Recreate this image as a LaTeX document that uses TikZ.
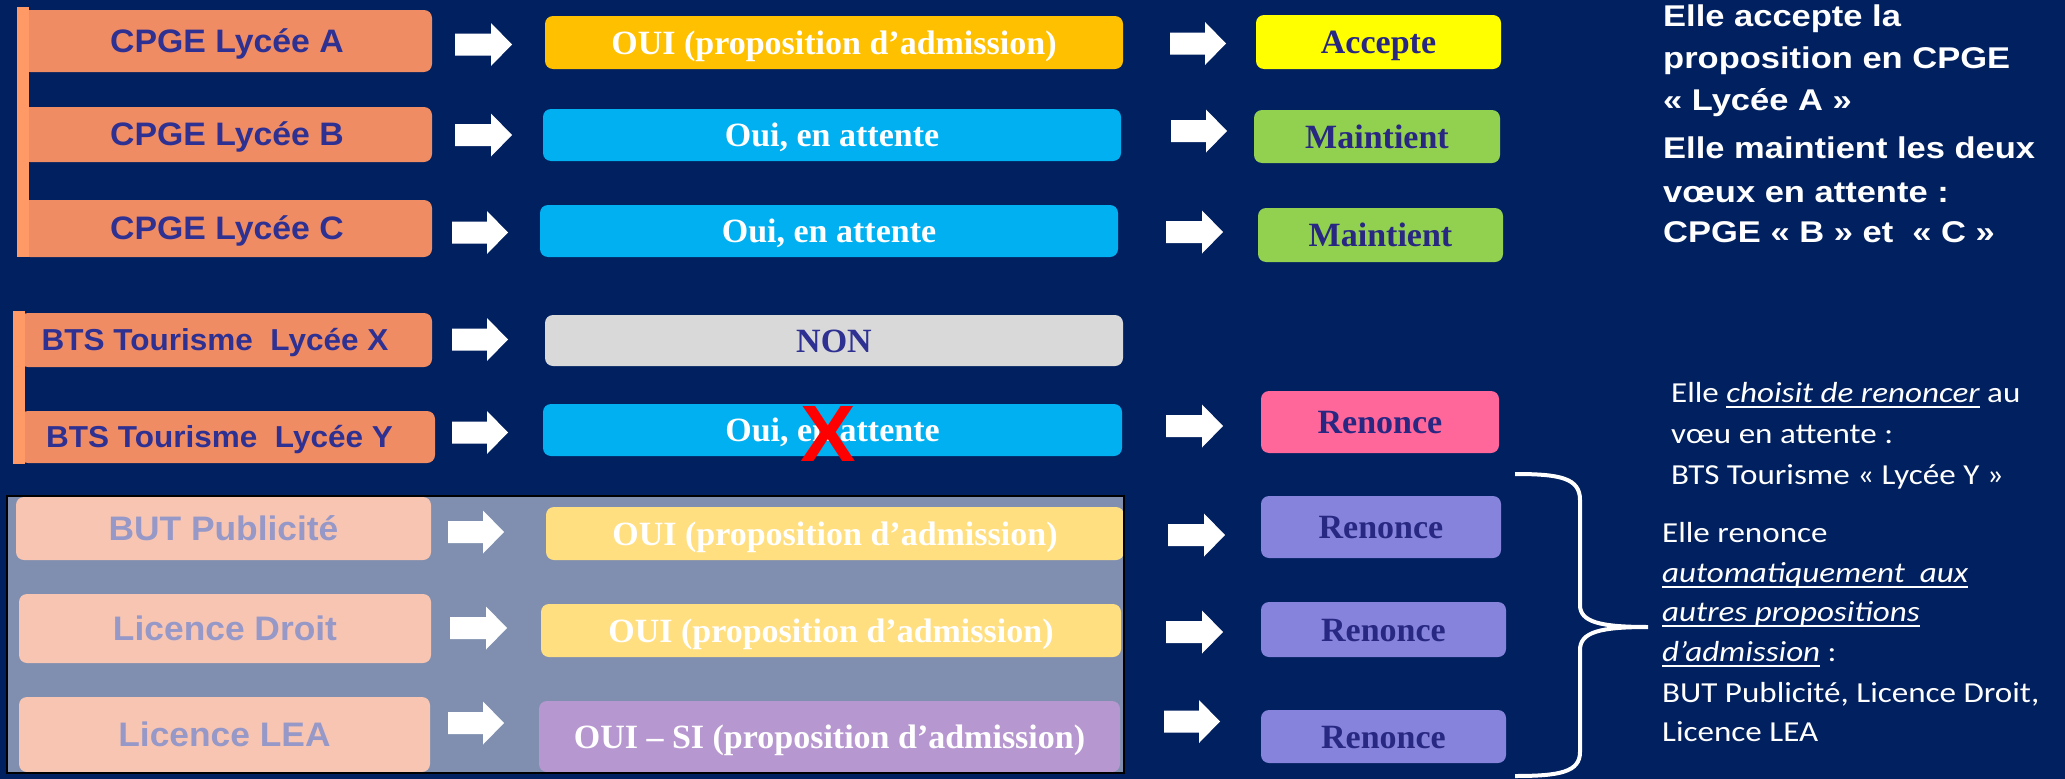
\documentclass[tikz,border=0pt]{standalone}
\usepackage{fontspec}
\setmainfont{Liberation Serif}
\newfontfamily\sansbox{Liberation Sans}[FakeStretch=1.04]
\newfontfamily\sanswide{Liberation Sans}[FakeStretch=1.15]
\newfontfamily\calfont{Carlito}[FakeStretch=1.14]
\definecolor{bg}{RGB}{0,32,96}
\definecolor{orbox}{RGB}{240,140,100}
\definecolor{orbar}{RGB}{255,153,102}
\definecolor{lbltxt}{RGB}{46,49,146}
\definecolor{gold}{RGB}{255,192,0}
\definecolor{cyanb}{RGB}{0,176,240}
\definecolor{greyb}{RGB}{217,217,217}
\definecolor{yel}{RGB}{255,255,0}
\definecolor{grn}{RGB}{146,208,80}
\definecolor{pinkb}{RGB}{255,102,153}
\definecolor{lav}{RGB}{133,131,219}
\definecolor{purp}{RGB}{112,48,160}
\definecolor{rtxt}{RGB}{40,40,130}
\newcommand\cc[1]{\raisebox{-.35em}[0pt][0pt]{#1}}
\newcommand\undl[1]{\setbox0=\hbox{#1}\rlap{\rule[-6pt]{\wd0}{1.6pt}}\box0\relax}
\newcommand\bx[7]{\node[#6, minimum width={#3pt-#2pt}, minimum height={#5pt-#4pt}] (#1) at ({(#2+#3)/2},{(#4+#5)/2}) {#7};}
\newcommand\barrow[3]{\fill[white] (#1,{#3-11}) -- ({#2-21},{#3-11}) -- ({#2-21},{#3-21.5}) -- (#2,#3) -- ({#2-21},{#3+21.5}) -- ({#2-21},{#3+11}) -- (#1,{#3+11}) -- cycle;}
\tikzset{
  box/.style={rounded corners=8pt, inner sep=0pt, draw=none},
  lfont/.style={font=\sansbox\bfseries\fontsize{#1}{#1}\selectfont},
  lbox/.style={box, fill=orbox, text=lbltxt},
  mbox/.style={box, text=white, font=\bfseries\fontsize{34}{34}\selectfont},
  rbox/.style={box, text=rtxt, font=\bfseries\fontsize{34}{34}\selectfont},
  rtext/.style={anchor=base west, inner sep=0pt, text=white, font=\sanswide\bfseries\fontsize{30}{30}\selectfont},
  ctext/.style={anchor=base west, inner sep=0pt, text=white, font=\calfont\fontsize{29}{29}\selectfont}
}
\begin{document}
\begin{tikzpicture}[x=1pt,y=-1pt]
\useasboundingbox (0,0) rectangle (2065,779);
\fill[bg] (0,0) rectangle (2065,779);
% left column
\bx{lA}{22}{432}{10}{72}{lbox,lfont=32.5}{\cc{CPGE Lycée A}}
\bx{lB}{22}{432}{107}{162}{lbox,lfont=32.5}{\cc{CPGE Lycée B}}
\bx{lC}{22}{432}{200}{257}{lbox,lfont=32.5}{\cc{CPGE Lycée C}}
\fill[orbar] (17,7) rectangle (29,257);
\bx{lX}{20}{432}{313}{367}{lbox,lfont=30.3}{\cc{\hspace*{-22pt}BTS Tourisme\ \ Lycée X}}
\bx{lY}{20}{435}{411}{463}{lbox,lfont=30.3}{\cc{\hspace*{-16pt}BTS Tourisme\ \ Lycée Y}}
\fill[orbar] (13,311) rectangle (25,464);
\bx{lBUT}{16}{431}{497}{560}{lbox,lfont=34}{\cc{BUT Publicité}}
\bx{lDroit}{19}{431}{594}{663}{lbox,lfont=34}{\cc{Licence Droit}}
\bx{lLEA}{19}{430}{697}{772}{lbox,lfont=34}{\cc{Licence LEA}}
% first arrows
\barrow{455}{512}{44.5}
\barrow{455}{512}{135}
\barrow{452}{508}{232.5}
\barrow{452}{508}{339.5}
\barrow{452}{508}{432.5}
\barrow{448}{504}{532}
\barrow{450}{507}{628}
\barrow{448}{504}{723}
% middle column
\bx{mA}{545}{1123}{16}{69}{mbox,fill=gold}{\cc{OUI (proposition d’admission)}}
\bx{mB}{543}{1121}{109}{161}{mbox,fill=cyanb}{\cc{Oui, en attente}}
\bx{mC}{540}{1118}{205}{257}{mbox,fill=cyanb}{\cc{Oui, en attente}}
\bx{mX}{545}{1123}{315}{366}{mbox,fill=greyb,text=lbltxt}{\cc{NON}}
\bx{mY}{543}{1122}{404}{456}{mbox,fill=cyanb}{\cc{Oui, en attente}}
\bx{mBUT}{546}{1124}{507}{560}{mbox,fill=gold}{\cc{OUI (proposition d’admission)}}
\bx{mDroit}{541}{1121}{604}{657}{mbox,fill=gold}{\cc{OUI (proposition d’admission)}}
\bx{mLEA}{539}{1120}{701}{772}{mbox,fill=purp}{\cc{OUI – SI (proposition d’admission)}}
\node[inner sep=0pt, text=red, lfont=80] (xmark) at (828,433) {\cc{X}};
% faded overlay
\draw[black, line width=2.5pt, fill=white, fill opacity=0.5] (7,496) rectangle (1124,773);
% second arrows
\barrow{1170}{1226}{43.5}
\barrow{1171}{1227}{131}
\barrow{1166}{1223}{232}
\barrow{1166}{1223}{426}
\barrow{1168}{1225}{535}
\barrow{1166}{1223}{632}
\barrow{1164}{1220}{721.5}
% right column
\bx{rA}{1256}{1501}{15}{69}{rbox,fill=yel}{\cc{Accepte}}
\bx{rB}{1254}{1500}{110}{163}{rbox,fill=grn}{\cc{Maintient}}
\bx{rC}{1258}{1503}{208}{262}{rbox,fill=grn}{\cc{Maintient}}
\bx{rY}{1261}{1499}{391}{453}{rbox,fill=pinkb}{\cc{Renonce}}
\bx{rBUT}{1261}{1501}{496}{558}{rbox,fill=lav}{\cc{Renonce}}
\bx{rDroit}{1261}{1506}{602}{657}{rbox,fill=lav}{\cc{Renonce}}
\bx{rLEA}{1261}{1506}{710}{763}{rbox,fill=lav}{\cc{Renonce}}
% brace
\draw[white, line width=4pt] (1515,474) .. controls (1560,474) and (1580,478) .. (1580,500) -- (1580,605) .. controls (1580,622) and (1600,627) .. (1648,627) .. controls (1600,627) and (1580,632) .. (1580,650) -- (1580,752) .. controls (1580,772) and (1560,776) .. (1515,776);
% right texts
\node[rtext] (t1) at (1663,27) {Elle accepte la};
\node[rtext] (t2) at (1663,68) {proposition en CPGE};
\node[rtext] (t3) at (1663,110) {« Lycée A »};
\node[rtext] (t4) at (1663,158) {Elle maintient les deux};
\node[rtext] (t5) at (1663,202) {vœux en attente :};
\node[rtext] (t6) at (1663,242) {CPGE « B » et\ \ « C »};
\node[ctext] (u1) at (1671,402) {Elle \undl{\itshape choisit de renoncer} au};
\node[ctext] (u2) at (1671,443) {vœu en attente :};
\node[ctext] (u3) at (1671,484) {BTS Tourisme « Lycée Y »};
\node[ctext] (v1) at (1662,542) {Elle renonce};
\node[ctext] (v2) at (1662,582) {\undl{\itshape automatiquement\ \ aux}};
\node[ctext] (v3) at (1662,621) {\undl{\itshape autres propositions}};
\node[ctext] (v4) at (1662,661) {\undl{\itshape d’admission} :};
\node[ctext] (v5) at (1662,702) {BUT Publicité, Licence Droit,};
\node[ctext] (v6) at (1662,741) {Licence LEA};
\end{tikzpicture}
\end{document}
